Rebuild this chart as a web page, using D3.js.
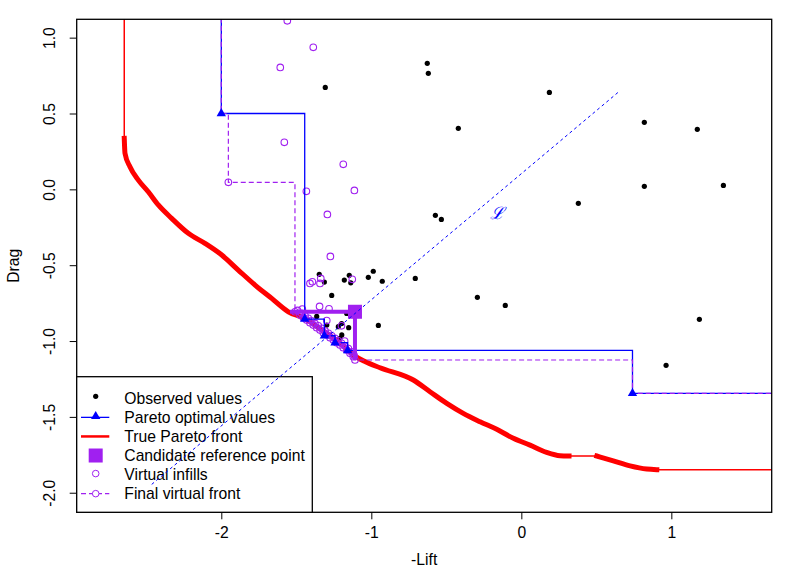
<!DOCTYPE html>
<html>
<head>
<meta charset="utf-8">
<script src="https://d3js.org/d3.v7.min.js"></script>
<style>
  body { margin: 0; background: #fff; }
  svg { display: block; font-family: "Liberation Sans", Arial, sans-serif; }
</style>
</head>
<body>
<svg width="793" height="571"></svg>
<script>
// ---- data ----
const xTicks = [-2, -1, 0, 1];
const xTickLabels = ["-2", "-1", "0", "1"];
const yTicks = [-2, -1.5, -1, -0.5, 0, 0.5, 1];
const yTickLabels = ["-2.0", "-1.5", "-1.0", "-0.5", "0.0", "0.5", "1.0"];

// observed (-Lift, Drag)
const observed = [
  [-0.627, 0.831], [-0.62, 0.765], [0.187, 0.639], [-0.42, 0.402], [0.82, 0.442],
  [1.173, 0.396], [0.82, 0.02], [1.347, 0.026], [0.38, -0.092], [-0.573, -0.171],
  [-0.533, -0.198], [-0.927, -0.606], [-0.707, -0.587], [-0.293, -0.712], [-0.107, -0.765],
  [1.187, -0.857], [0.965, -1.16], [-1.307, 0.672], [-1.347, -0.56], [-1.313, -0.611],
  [-1.264, -0.699], [-1.18, -0.598], [-1.147, -0.567], [-1.137, -0.616], [-1.02, -0.58],
  [-0.987, -0.54], [-0.953, -0.897], [-1.364, -0.838], [-1.297, -0.895], [-1.22, -0.905],
  [-1.198, -0.885], [-1.197, -0.96], [-1.209, -0.982], [-1.164, -0.818], [-1.151, -0.912]
];

// Pareto optimal values (first / last entries run off the plot)
const paretoLine = [
  [-2, 1.5], [-2, 0.5], [-1.444, -0.855], [-1.313, -0.965], [-1.242, -1.011],
  [-1.158, -1.062], [0.741, -1.345], [2, -1.345]
];
const paretoPoints = [
  [-2, 0.5], [-1.444, -0.855], [-1.313, -0.965], [-1.242, -1.011], [-1.158, -1.062], [0.741, -1.345]
];

// true Pareto front
const trueFrontTop = [-2.647, 1.5];
const trueFrontA = [
  [-2.647, 0.336], [-2.642, 0.237], [-2.609, 0.149], [-2.553, 0.061], [-2.487, -0.016],
  [-2.42, -0.103], [-2.331, -0.191], [-2.22, -0.29], [-2.109, -0.356], [-1.997, -0.433],
  [-1.887, -0.532], [-1.775, -0.631], [-1.664, -0.719], [-1.553, -0.807], [-1.443, -0.852],
  [-1.329, -0.928], [-1.209, -1.013], [-1.109, -1.099], [-1.042, -1.135], [-0.942, -1.176],
  [-0.72, -1.257], [-0.609, -1.334], [-0.497, -1.411], [-0.387, -1.477], [-0.275, -1.532],
  [-0.164, -1.582], [-0.053, -1.641], [0.058, -1.686], [0.169, -1.734], [0.258, -1.756],
  [0.318, -1.758]
];
const trueFrontB = [
  [0.503, -1.758], [0.613, -1.79], [0.725, -1.823], [0.836, -1.844], [0.903, -1.848]
];
const trueFrontEnd = [2, -1.848];

// virtual infills lying on the front
const bandInfills = [
  [-1.509, -0.807], [-1.475, -0.829], [-1.453, -0.846], [-1.431, -0.862], [-1.409, -0.879],
  [-1.387, -0.895], [-1.364, -0.912], [-1.342, -0.928], [-1.32, -0.945], [-1.297, -0.96],
  [-1.275, -0.978], [-1.253, -0.993], [-1.231, -1.011], [-1.209, -1.026], [-1.187, -1.044],
  [-1.164, -1.059], [-1.142, -1.081], [-1.12, -1.103], [-1.109, -1.125]
];
const bandInfillsUpper = [
  [-1.492, -0.798], [-1.464, -0.818], [-1.442, -0.834], [-1.42, -0.85], [-1.398, -0.867],
  [-1.376, -0.884], [-1.353, -0.9], [-1.331, -0.916], [-1.308, -0.933], [-1.286, -0.949],
  [-1.264, -0.965], [-1.242, -0.982], [-1.22, -0.998], [-1.198, -1.015], [-1.176, -1.031],
  [-1.153, -1.05], [-1.131, -1.072], [-1.115, -1.094]
];
const looseInfills = [
  [-1.56, 1.111], [-1.387, 0.936], [-1.607, 0.804], [-1.58, 0.31], [-1.187, 0.165],
  [-1.953, 0.046], [-1.113, -0.007], [-1.433, -0.013], [-1.293, -0.165], [-1.273, -0.442],
  [-1.409, -0.62], [-1.393, -0.609], [-1.337, -0.587], [-1.342, -0.62], [-1.127, -0.593],
  [-1.46, -0.789], [-1.345, -0.772], [-1.282, -0.787], [-1.297, -0.865], [-1.199, -0.9],
  [-1.178, -1.0]
];

// final virtual front
const virtualFront = [[-2, 1.5], [-2, 0.5], [-1.953, 0.046]]
  .concat(bandInfills)
  .concat([[0.741, -1.345], [2, -1.345]]);

// candidate reference point and its box to the front
const refPoint = [-1.109, -0.807];
const refLeftX = -1.542;
const refBottomY = -1.125;

// line L
const lineL = [[-2.464, -1.945], [0.653, 0.646]];
const labelL = [-0.164, -0.154];

const legendLabels = ["Observed values", "Pareto optimal values", "True Pareto front",
  "Candidate reference point", "Virtual infills", "Final virtual front"];

// ---- drawing ----
const BLUE = "#0000FF", RED = "#FF0000", PURPLE = "#A020F0";
const FS = 15.7;
const svg = d3.select("svg");

const xScale = d3.scaleLinear().domain([-2.964, 1.669]).range([76.7, 771.7]);
const yScale = d3.scaleLinear().domain([-2.129, 1.121]).range([512.3, 19.3]);
const [x0, x1] = xScale.range();
const [y0, y1] = yScale.range();

svg.append("clipPath").attr("id", "plot")
  .append("rect").attr("x", x0).attr("y", y1).attr("width", x1 - x0).attr("height", y0 - y1);

const line = d3.line().x(d => xScale(d[0])).y(d => yScale(d[1]));
const smoothLine = d3.line().x(d => xScale(d[0])).y(d => yScale(d[1])).curve(d3.curveMonotoneX);
const stepLine = d3.line().x(d => xScale(d[0])).y(d => yScale(d[1])).curve(d3.curveStepAfter);

const g = svg.append("g").attr("clip-path", "url(#plot)");

// observed points
g.selectAll("circle.obs").data(observed).enter().append("circle")
  .attr("class", "obs")
  .attr("cx", d => xScale(d[0])).attr("cy", d => yScale(d[1]))
  .attr("r", 2.6).attr("fill", "#000");

// true Pareto front
g.append("path").datum([trueFrontTop].concat(trueFrontA, trueFrontB, [trueFrontEnd]))
  .attr("fill", "none").attr("stroke", RED).attr("stroke-width", 1.5).attr("d", line);
[trueFrontA, trueFrontB].forEach(seg => {
  g.append("path").datum(seg)
    .attr("fill", "none").attr("stroke", RED).attr("stroke-width", 5)
    .attr("stroke-linejoin", "round").attr("stroke-linecap", "square").attr("d", smoothLine);
});

// virtual infills
g.selectAll("circle.inf").data(looseInfills.concat(bandInfills, bandInfillsUpper)).enter().append("circle")
  .attr("class", "inf")
  .attr("cx", d => xScale(d[0])).attr("cy", d => yScale(d[1]))
  .attr("r", 3.3).attr("fill", "none").attr("stroke", PURPLE).attr("stroke-width", 1.1);

// Pareto optimal step line
g.append("path").datum(paretoLine)
  .attr("fill", "none").attr("stroke", BLUE).attr("stroke-width", 1.3).attr("d", stepLine);

// final virtual front
g.append("path").datum(virtualFront)
  .attr("fill", "none").attr("stroke", PURPLE).attr("stroke-width", 1.2)
  .attr("stroke-dasharray", "5,3").attr("d", stepLine);

const tri = d3.symbol().type(d3.symbolTriangle).size(38);
g.selectAll("path.par").data(paretoPoints).enter().append("path")
  .attr("class", "par")
  .attr("transform", d => `translate(${xScale(d[0])},${yScale(d[1])})`)
  .attr("d", tri).attr("fill", BLUE);

// candidate reference point box
g.append("path")
  .datum([[refLeftX, refPoint[1]], refPoint, [refPoint[0], refBottomY]])
  .attr("fill", "none").attr("stroke", PURPLE).attr("stroke-width", 4).attr("d", line);
g.append("rect")
  .attr("x", xScale(refPoint[0]) - 7).attr("y", yScale(refPoint[1]) - 7)
  .attr("width", 14).attr("height", 14).attr("fill", PURPLE);

// ---- axes ----
const xAxis = d3.axisBottom(xScale).tickValues(xTicks).tickSize(7).tickPadding(16)
  .tickFormat((d, i) => xTickLabels[i]);
const gx = svg.append("g").attr("transform", `translate(0,${y0})`).call(xAxis);
gx.select(".domain").remove();
gx.selectAll("text").attr("font-size", FS).attr("font-family", "Liberation Sans, Arial, sans-serif")
  .attr("dy", "0.2em");

const yAxis = d3.axisLeft(yScale).tickValues(yTicks).tickSize(7)
  .tickFormat((d, i) => yTickLabels[i]);
const gy = svg.append("g").attr("transform", `translate(${x0},0)`).call(yAxis);
gy.select(".domain").remove();
gy.selectAll("text")
  .attr("font-size", FS).attr("font-family", "Liberation Sans, Arial, sans-serif")
  .attr("text-anchor", "middle").attr("x", 0).attr("dy", 0)
  .attr("transform", "translate(-22,0) rotate(-90)");

svg.append("rect").attr("x", x0).attr("y", y1).attr("width", x1 - x0).attr("height", y0 - y1)
  .attr("fill", "none").attr("stroke", "#000").attr("stroke-width", 1.3);

svg.append("text").attr("x", (x0 + x1) / 2).attr("y", 565).attr("text-anchor", "middle")
  .attr("font-size", FS).text("-Lift");
svg.append("text").attr("transform", `translate(18.5,${(y0 + y1) / 2}) rotate(-90)`)
  .attr("text-anchor", "middle").attr("font-size", FS).text("Drag");

// ---- legend ----
const lg = svg.append("g");
lg.append("rect").attr("x", x0).attr("y", 376.7).attr("width", 312.3 - x0).attr("height", y0 - 376.7)
  .attr("fill", "#fff").attr("stroke", "#000").attr("stroke-width", 1.3);
const rowY = i => 398.3 + i * 19.07;
const symX = 95.7;
legendLabels.forEach((t, i) => {
  lg.append("text").attr("x", 124.3).attr("y", rowY(i)).attr("dy", "0.36em")
    .attr("font-size", FS).text(t);
});
lg.append("circle").attr("cx", symX).attr("cy", rowY(0) - 2).attr("r", 2.6).attr("fill", "#000");
lg.append("line").attr("x1", 81).attr("x2", 109.3).attr("y1", rowY(1)).attr("y2", rowY(1))
  .attr("stroke", BLUE).attr("stroke-width", 1.3);
lg.append("path").attr("transform", `translate(${symX},${rowY(1) - 1})`).attr("d", tri).attr("fill", BLUE);
lg.append("line").attr("x1", 81).attr("x2", 109.3).attr("y1", rowY(2)).attr("y2", rowY(2))
  .attr("stroke", RED).attr("stroke-width", 2.5);
lg.append("rect").attr("x", symX - 7).attr("y", rowY(3) - 7).attr("width", 14).attr("height", 14)
  .attr("fill", PURPLE);
lg.append("circle").attr("cx", symX).attr("cy", rowY(4) - 1).attr("r", 3.3)
  .attr("fill", "none").attr("stroke", PURPLE);
lg.append("line").attr("x1", 81).attr("x2", 109.3).attr("y1", rowY(5)).attr("y2", rowY(5))
  .attr("stroke", PURPLE).attr("stroke-width", 1.2).attr("stroke-dasharray", "5,3");
lg.append("circle").attr("cx", symX).attr("cy", rowY(5)).attr("r", 3.3)
  .attr("fill", "#fff").attr("stroke", PURPLE);

// ---- line L, drawn over the legend ----
svg.append("path").datum(lineL)
  .attr("fill", "none").attr("stroke", BLUE).attr("stroke-width", 1)
  .attr("stroke-dasharray", "3,3").attr("d", line);
svg.append("text")
  .attr("x", xScale(labelL[0])).attr("y", yScale(labelL[1])).attr("dy", "0.35em")
  .attr("text-anchor", "middle").attr("fill", BLUE).attr("font-size", 17)
  .attr("font-style", "italic").attr("font-family", "DejaVu Serif, serif").text("ℒ");
</script>
</body>
</html>
